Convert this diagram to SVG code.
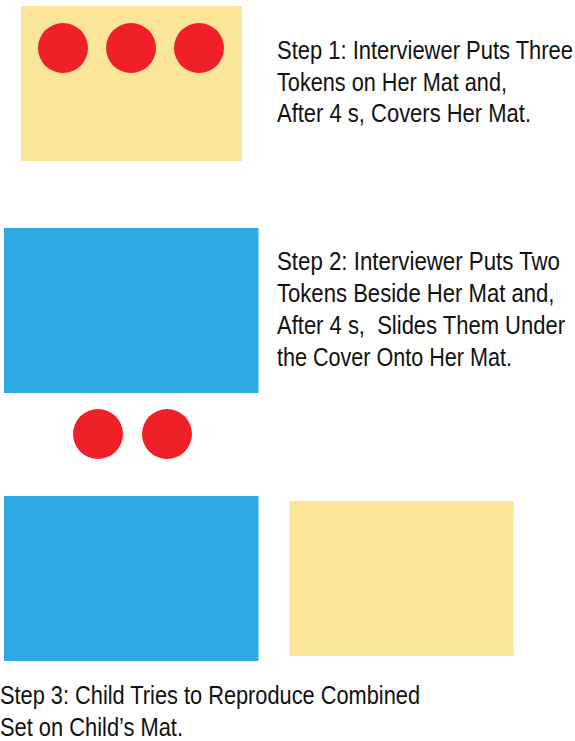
<svg xmlns="http://www.w3.org/2000/svg" width="575" height="741" viewBox="0 0 575 741">
<style>
.mat{fill:#FBE697}
.cover{fill:#2FAAE3}
.tok{fill:#EF2027}
.lbl{font-family:"Liberation Sans Narrow","Liberation Sans",Arial,sans-serif;font-size:26px;fill:#111}
</style>
<rect width="575" height="741" fill="#fff"/>
<g id="step1">
<rect class="mat" x="21" y="6" width="221" height="155"/>
<circle class="tok" cx="63" cy="48" r="25"/>
<circle class="tok" cx="131" cy="48" r="25"/>
<circle class="tok" cx="199" cy="48" r="25"/>
<text class="lbl" x="277" y="59" textLength="296" lengthAdjust="spacingAndGlyphs">Step 1: Interviewer Puts Three</text>
<text class="lbl" x="277" y="91" textLength="230" lengthAdjust="spacingAndGlyphs">Tokens on Her Mat and,</text>
<text class="lbl" x="277" y="122" textLength="254" lengthAdjust="spacingAndGlyphs">After 4 s, Covers Her Mat.</text>
</g>
<g id="step2">
<rect class="cover" x="4" y="228" width="254.5" height="165"/>
<circle class="tok" cx="98" cy="434" r="25"/>
<circle class="tok" cx="167" cy="434" r="25"/>
<text class="lbl" x="277" y="270" textLength="283" lengthAdjust="spacingAndGlyphs">Step 2: Interviewer Puts Two</text>
<text class="lbl" x="277" y="302" textLength="277.5" lengthAdjust="spacingAndGlyphs">Tokens Beside Her Mat and,</text>
<text class="lbl" x="277" y="334" textLength="288" lengthAdjust="spacingAndGlyphs" xml:space="preserve">After 4 s,  Slides Them Under</text>
<text class="lbl" x="277" y="366" textLength="235" lengthAdjust="spacingAndGlyphs">the Cover Onto Her Mat.</text>
</g>
<g id="step3">
<rect class="cover" x="4" y="496" width="254.5" height="165"/>
<rect class="mat" x="289.5" y="501" width="224" height="155"/>
<text class="lbl" x="0" y="704" textLength="420" lengthAdjust="spacingAndGlyphs">Step 3: Child Tries to Reproduce Combined</text>
<text class="lbl" x="0" y="736" textLength="183" lengthAdjust="spacingAndGlyphs">Set on Child’s Mat.</text>
</g>
<g id="connectors"/>
</svg>
